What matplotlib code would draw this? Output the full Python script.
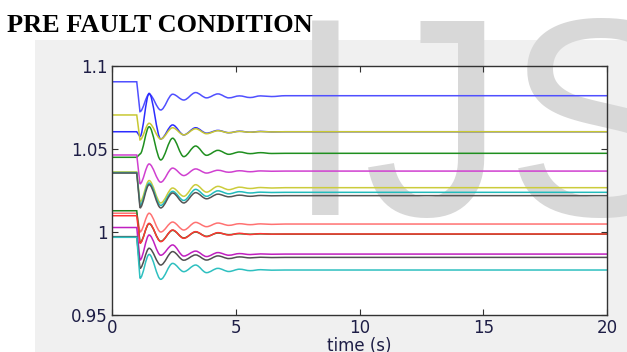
import matplotlib
matplotlib.use('Agg')
import matplotlib.pyplot as plt
from matplotlib.path import Path
from matplotlib.patches import PathPatch, Rectangle

# times of the swing extrema after the fault at t = 1 s
t_ext = [1.13, 1.5, 1.97, 2.45, 2.9, 3.38, 3.82, 4.28, 4.72, 5.15, 5.58, 6.0, 6.45]
t_fault = 1.0
t_settle = 7.0
t_end = 20.0

names = ['blue1', 'blue2', 'yellow1', 'green1', 'magenta1', 'yellow2', 'cyan1', 'gray1',
         'red1', 'green2', 'red2', 'magenta2', 'gray2', 'cyan2']
colors = ['#5050ff', '#2c2cff', '#c8c832', '#1f8f1f', '#d040d0', '#cccc3c', '#22bcbc', '#555555',
          '#ff7272', '#208020', '#ff3434', '#c020c0', '#505050', '#2ec0c0']

v_init = [1.0905, 1.0604, 1.0705, 1.0450, 1.0464, 1.0362, 1.0358, 1.0355,
          1.0113, 1.0128, 1.0098, 1.0027, 0.9972, 0.9968]
v_final = [1.0821, 1.0604, 1.0604, 1.0474, 1.0367, 1.0267, 1.0239, 1.0219,
           1.0048, 0.9987, 0.9988, 0.9867, 0.9847, 0.9771]

blue1 = [1.0725, 1.0830, 1.0735, 1.0830, 1.0795, 1.0840, 1.0808, 1.0832, 1.0808, 1.0820, 1.0810, 1.0820, 1.0816]
blue2 = [1.0575, 1.0835, 1.0560, 1.0645, 1.0585, 1.0628, 1.0595, 1.0612, 1.0598, 1.0607, 1.0601, 1.0606, 1.0603]
yellow1 = [1.0555, 1.0655, 1.0560, 1.0628, 1.0585, 1.0622, 1.0592, 1.0610, 1.0598, 1.0606, 1.0601, 1.0605, 1.0603]
green1 = [1.0470, 1.0634, 1.0434, 1.0565, 1.0454, 1.0518, 1.0462, 1.0492, 1.0468, 1.0482, 1.0472, 1.0478, 1.0473]
magenta1 = [1.0290, 1.0410, 1.0300, 1.0385, 1.0340, 1.0380, 1.0355, 1.0372, 1.0360, 1.0369, 1.0363, 1.0368, 1.0366]
yellow2 = [1.0180, 1.0310, 1.0175, 1.0265, 1.0215, 1.0285, 1.0240, 1.0275, 1.0255, 1.0270, 1.0262, 1.0268, 1.0265]
cyan1 = [1.0160, 1.0295, 1.0160, 1.0245, 1.0190, 1.0257, 1.0215, 1.0248, 1.0230, 1.0243, 1.0235, 1.0240, 1.0238]
gray1 = [1.0145, 1.0285, 1.0145, 1.0235, 1.0175, 1.0237, 1.0200, 1.0228, 1.0212, 1.0222, 1.0215, 1.0220, 1.0218]
red1 = [1.0000, 1.0113, 1.0000, 1.0060, 1.0012, 1.0058, 1.0032, 1.0054, 1.0040, 1.0050, 1.0044, 1.0049, 1.0046]
green2 = [0.9935, 1.0050, 0.9944, 1.0010, 0.9964, 1.0000, 0.9974, 0.9994, 0.9984, 0.9990, 0.9986, 0.9989, 0.9987]
red2 = [0.9932, 1.0052, 0.9942, 1.0012, 0.9962, 1.0002, 0.9972, 0.9996, 0.9982, 0.9992, 0.9985, 0.9990, 0.9987]
magenta2 = [0.9831, 0.9982, 0.9860, 0.9922, 0.9855, 0.9885, 0.9852, 0.9876, 0.9860, 0.9870, 0.9864, 0.9868, 0.9866]
gray2 = [0.9781, 0.9902, 0.9801, 0.9882, 0.9830, 0.9862, 0.9831, 0.9856, 0.9840, 0.9850, 0.9844, 0.9848, 0.9846]
cyan2 = [0.9721, 0.9865, 0.9715, 0.9811, 0.9761, 0.9801, 0.9755, 0.9781, 0.9762, 0.9776, 0.9767, 0.9773, 0.9770]

swings = [blue1, blue2, yellow1, green1, magenta1, yellow2, cyan1, gray1,
          red1, green2, red2, magenta2, gray2, cyan2]

x_ticks = [0, 5, 10, 15, 20]
y_ticks = [0.95, 1.0, 1.05, 1.1]
y_tick_labels = ['0.95', '1', '1.05', '1.1']


def swing_path(init, ext, final):
    """step, then a smooth swing through the extrema (flat tangent at each one)"""
    verts = [(0, init), (t_fault, init), (t_ext[0], ext[0])]
    codes = [Path.MOVETO, Path.LINETO, Path.LINETO]
    pts = list(zip(t_ext, ext)) + [(t_settle, final)]
    for (t0, v0), (t1, v1) in zip(pts[:-1], pts[1:]):
        verts += [((2 * t0 + t1) / 3, v0), ((t0 + 2 * t1) / 3, v1), (t1, v1)]
        codes += [Path.CURVE4] * 3
    verts.append((t_end, final))
    codes.append(Path.LINETO)
    return Path(verts, codes)


fig = plt.figure(figsize=(6.27, 3.52), dpi=100)

# grey panel behind the matlab figure, white plot area, then the watermark
fig.patches.append(Rectangle((35 / 627, 0), 1, 1 - 40 / 352, transform=fig.transFigure,
                             facecolor='#f0f0f0', edgecolor='none', zorder=0))
ax = fig.add_axes([112 / 627, 1 - 315 / 352, 495 / 627, 249 / 352], zorder=2)
fig.patches.append(Rectangle((112 / 627, 1 - 315 / 352), 495 / 627, 249 / 352, transform=fig.transFigure,
                             facecolor='white', edgecolor='none', zorder=0.5))
fig.text(286 / 627, 1 - 215 / 352, 'IJS', fontsize=204, family='Liberation Sans',
         color='#d8d8d8', ha='left', va='baseline', zorder=1)
ax.set_facecolor('none')

for name, c, v0, ext, v1 in zip(names, colors, v_init, swings, v_final):
    ax.add_patch(PathPatch(swing_path(v0, ext, v1), fill=False, edgecolor=c, linewidth=1.1))

ax.set_xlim(0, 20)
ax.set_ylim(0.95, 1.1)
ax.set_xticks(x_ticks)
ax.set_xticklabels([str(x) for x in x_ticks])
ax.set_yticks(y_ticks)
ax.set_yticklabels(y_tick_labels)
ax.tick_params(direction='in', length=4, width=0.8, top=True, right=True,
               labelsize=12, labelcolor='#1e1e46', color='#333333', pad=3)
for lbl in ax.get_xticklabels() + ax.get_yticklabels():
    lbl.set_family('DejaVu Sans')
for sp in ax.spines.values():
    sp.set_color('#333333')
    sp.set_linewidth(1.0)
ax.set_xlabel('time (s)', fontsize=12, color='#1e1e46', labelpad=0)

fig.text(7 / 627, 1 - 32 / 352, 'PRE FAULT CONDITION', fontsize=19, fontweight='bold',
         family='Liberation Serif', ha='left', va='baseline', color='black')

fig.savefig('out.png', dpi=100)
